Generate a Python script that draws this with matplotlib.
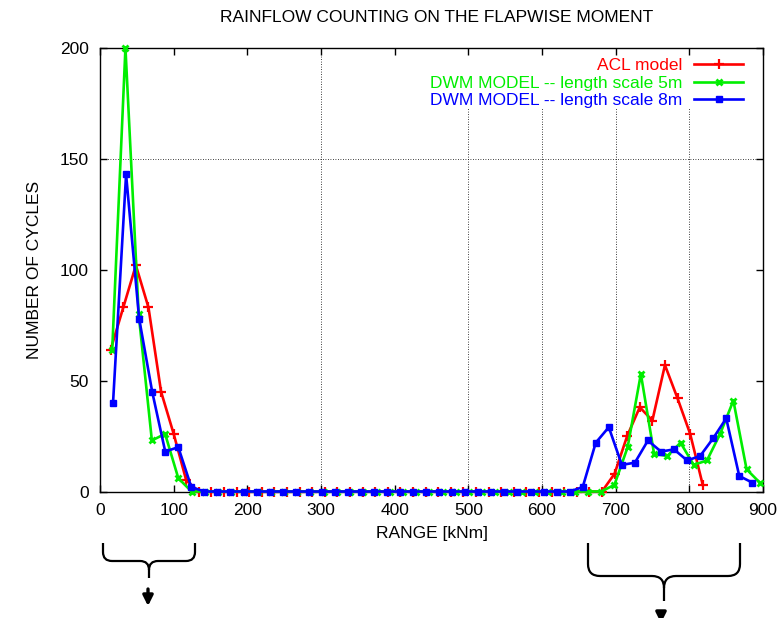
import numpy as np
import matplotlib
matplotlib.use("Agg")
import matplotlib.pyplot as plt
from matplotlib.path import Path
from matplotlib.patches import PathPatch

plt.rcParams['font.family'] = ['Liberation Sans', 'DejaVu Sans']
plt.rcParams['font.size'] = 12.5

# bin centres (kNm) for each rainflow histogram
acl_range = np.arange(48) * 17.1 + 14.5
dwm5_range = np.arange(50) * 17.94 + 16.6
dwm8_range = np.arange(50) * 17.71 + 17.7

# cycle counts per bin
acl_cycles = [64, 83, 102, 83, 45, 26, 5, 0] + [0] * 32 + \
             [8, 25, 38, 32, 57, 42, 26, 3]
dwm5_cycles = [64, 200, 80, 23, 26, 6, 0] + [0] * 31 + \
              [3, 20, 53, 17, 16, 22, 12, 14, 26, 41, 10, 4]
dwm8_cycles = [40, 143, 78, 45, 18, 20, 2, 0] + [0] * 28 + \
              [2, 22, 29, 12, 13, 23, 18, 19, 14, 16, 24, 33, 7, 4]

labels = ["ACL model",
          "DWM MODEL -- length scale 5m",
          "DWM MODEL -- length scale 8m"]
colors = ["#ff0000", "#00ee00", "#0000ff"]

W, H = 784, 618
fig = plt.figure(figsize=(W / 100, H / 100), dpi=100)
ax = fig.add_axes([100 / W, 1 - 491.5 / H, 663 / W, 443.5 / H])

ax.plot(acl_range, acl_cycles, color=colors[0], lw=1.9, marker='+',
        ms=7, mew=1.6, clip_on=False, label=labels[0], zorder=3)
ax.plot(dwm5_range, dwm5_cycles, color=colors[1], lw=1.9, marker='x',
        ms=5, mew=2, clip_on=False, label=labels[1], zorder=4)
ax.plot(dwm8_range, dwm8_cycles, color=colors[2], lw=1.9, marker='s',
        ms=5, mew=1, clip_on=False, label=labels[2], zorder=5)

ax.set_xlim(0, 900)
ax.set_ylim(0, 200)
ax.set_xticks(range(0, 901, 100))
ax.set_yticks(range(0, 201, 50))
ax.tick_params(direction='in', top=True, right=True, length=5, width=1, pad=8)
for s in ax.spines.values():
    s.set_linewidth(1.0)

# dotted grid lines; the ones under the key stop short of it
grid_style = dict(color='black', lw=0.6, ls=(0, (1, 2)), zorder=1)
ax.axvline(300, **grid_style)
ax.vlines([500, 600, 700, 800], 0, 173, **grid_style)
ax.axhline(150, **grid_style)

ax.set_xlabel("RANGE [kNm]")
ax.set_ylabel("NUMBER OF CYCLES")
ax.xaxis.set_label_coords(0.5, -0.078)
ax.yaxis.set_label_coords(-0.088, 0.5)
fig.text(437 / W, 1 - 18 / H, "RAINFLOW COUNTING ON THE FLAPWISE MOMENT",
         ha='center', va='center')

leg = ax.legend(loc='upper right', bbox_to_anchor=(0.97, 0.977),
                frameon=False, markerfirst=False, borderpad=0,
                borderaxespad=0, handlelength=2.8, handletextpad=0.7,
                labelspacing=0.13)
for txt, c in zip(leg.get_texts(), colors):
    txt.set_color(c)


# curly braces under the axis, in figure pixels (origin top-left)
def brace(x0, x1, top, mid, bottom, r=10):
    xc = (x0 + x1) / 2
    pts = [(x0, top), (x0, mid - r), (x0, mid), (x0 + r, mid),
           (xc - r, mid), (xc, mid), (xc, mid + r), (xc, bottom),
           (xc, mid + r), (xc, mid), (xc + r, mid),
           (x1 - r, mid), (x1, mid), (x1, mid - r), (x1, top)]
    codes = [Path.MOVETO, Path.LINETO, Path.CURVE3, Path.CURVE3,
             Path.LINETO, Path.CURVE3, Path.CURVE3, Path.LINETO,
             Path.MOVETO, Path.CURVE3, Path.CURVE3,
             Path.LINETO, Path.CURVE3, Path.CURVE3, Path.LINETO]
    verts = [(x / W, 1 - y / H) for x, y in pts]
    fig.patches.append(PathPatch(Path(verts, codes), fill=False, lw=1.6,
                                 ec='black', transform=fig.transFigure))


brace(103, 195, 543, 561, 578, r=9)
brace(588, 740, 543, 576, 601, r=12)

for x, y0, y1 in [(148, 589, 606), (661, 612, 623)]:
    ax.annotate('', xy=(x, H - y1), xytext=(x, H - y0),
                xycoords='figure pixels', textcoords='figure pixels',
                arrowprops=dict(arrowstyle='-|>', lw=2.4, color='black',
                                mutation_scale=15, shrinkA=0, shrinkB=0),
                annotation_clip=False)

fig.savefig("out.png", dpi=100)
